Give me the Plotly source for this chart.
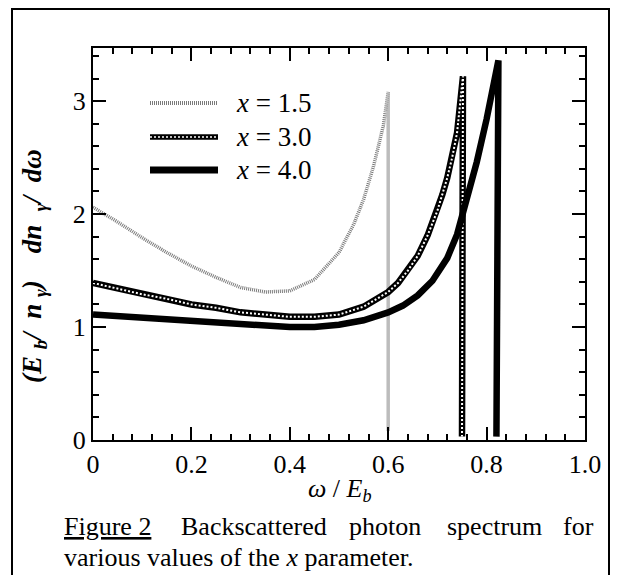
import plotly.graph_objects as go

# ---- data ----
omega_15 = [0.00, 0.05, 0.10, 0.15, 0.20, 0.25, 0.30, 0.35, 0.40, 0.45, 0.50, 0.53, 0.55, 0.57, 0.59, 0.600, 0.600]
spec_15 = [2.06, 1.93, 1.79, 1.66, 1.54, 1.44, 1.35, 1.31, 1.32, 1.42, 1.66, 1.91, 2.13, 2.42, 2.78, 3.08, 0.08]

omega_30 = [0.00, 0.05, 0.10, 0.15, 0.20, 0.25, 0.30, 0.35, 0.40, 0.45, 0.50, 0.55, 0.60, 0.62, 0.64,
            0.66, 0.68, 0.70, 0.71, 0.72, 0.73, 0.74, 0.752, 0.750]
spec_30 = [1.39, 1.34, 1.29, 1.25, 1.20, 1.17, 1.13, 1.11, 1.09, 1.09, 1.11, 1.18, 1.31, 1.39, 1.50,
           1.63, 1.81, 2.03, 2.17, 2.32, 2.50, 2.72, 3.22, 0.03]

omega_40 = [0.00, 0.05, 0.10, 0.15, 0.20, 0.25, 0.30, 0.35, 0.40, 0.45, 0.50, 0.55, 0.60, 0.63, 0.66,
            0.69, 0.72, 0.74, 0.76, 0.78, 0.80, 0.815, 0.824, 0.820]
spec_40 = [1.11, 1.095, 1.08, 1.065, 1.05, 1.035, 1.02, 1.005, 1.00, 1.00, 1.02, 1.06, 1.13, 1.19, 1.28,
           1.41, 1.61, 1.82, 2.12, 2.46, 2.84, 3.15, 3.36, 0.03]

x_ticks = [0, 0.2, 0.4, 0.6, 0.8, 1.0]
x_tick_text = ["0", "0.2", "0.4", "0.6", "0.8", "1.0"]
y_ticks = [0, 1, 2, 3]
y_tick_text = ["0", "1", "2", "3"]
legend_labels = ["<i>x</i> = 1.5", "<i>x</i> = 3.0", "<i>x</i> = 4.0"]

FONT = "Liberation Serif, Times New Roman, serif"

fig = go.Figure()
fig.add_trace(go.Scatter(x=omega_15, y=spec_15, mode="lines",
                         line=dict(color="#7a7a7a", width=3.5, dash="1px,1px"),
                         showlegend=False, hoverinfo="skip"))
fig.add_trace(go.Scatter(x=omega_30, y=spec_30, mode="lines",
                         line=dict(color="black", width=6.5),
                         showlegend=False, hoverinfo="skip"))
fig.add_trace(go.Scatter(x=omega_30, y=spec_30, mode="lines",
                         line=dict(color="white", width=2, dash="2px,2px"),
                         showlegend=False, hoverinfo="skip"))
fig.add_trace(go.Scatter(x=omega_40, y=spec_40, mode="lines",
                         line=dict(color="black", width=6.5),
                         showlegend=False, hoverinfo="skip"))

# page has an 8px body margin: lay out in page pixels, then shift
OFF = 8
W, H = 619 - OFF, 575 - OFF
PL, PR, PT, PB = 93, 585, 48, 440          # plot box in page pixels
L, T = PL - OFF, PT - OFF
R, B = W - (PR - OFF), H - (PB - OFF)
pw, ph = PR - PL, PB - PT


def px(xp):
    return (xp - PL) / pw


def py(yp):
    return (PB - yp) / ph


axis_common = dict(showgrid=False, zeroline=False, showline=True, linecolor="black",
                   linewidth=2, mirror="ticks", ticks="inside", ticklen=13,
                   tickwidth=1.5, tickcolor="black",
                   tickfont=dict(family=FONT, size=26, color="black"))

fig.update_xaxes(range=[0, 1.0], tickvals=x_ticks, ticktext=x_tick_text,
                 minor=dict(dtick=0.04, ticks="inside", ticklen=6, tickwidth=1.5, tickcolor="black"),
                 **axis_common)
fig.update_yaxes(range=[0, 3.47], tickvals=y_ticks, ticktext=y_tick_text,
                 minor=dict(dtick=0.2, ticks="inside", ticklen=6, tickwidth=1.5, tickcolor="black"),
                 **axis_common)

shapes = []
# outer frame
shapes.append(dict(type="rect", xref="paper", yref="paper",
                   x0=px(12), x1=px(609), y0=py(600), y1=py(9),
                   line=dict(color="black", width=2), layer="below"))
# legend samples
leg_y = [103, 137, 170]
shapes.append(dict(type="line", xref="paper", yref="paper", x0=px(150), x1=px(218),
                   y0=py(leg_y[0]), y1=py(leg_y[0]),
                   line=dict(color="#7a7a7a", width=4, dash="1px,1px")))
shapes.append(dict(type="line", xref="paper", yref="paper", x0=px(150), x1=px(218),
                   y0=py(leg_y[1]), y1=py(leg_y[1]),
                   line=dict(color="black", width=5.5)))
shapes.append(dict(type="line", xref="paper", yref="paper", x0=px(150), x1=px(218),
                   y0=py(leg_y[1]), y1=py(leg_y[1]),
                   line=dict(color="white", width=1.6, dash="2px,2px")))
shapes.append(dict(type="line", xref="paper", yref="paper", x0=px(150), x1=px(218),
                   y0=py(leg_y[2]), y1=py(leg_y[2]),
                   line=dict(color="black", width=7)))

annotations = []
for lab, yy in zip(legend_labels, leg_y):
    annotations.append(dict(text=lab, xref="paper", yref="paper", x=px(234), y=py(yy),
                            xanchor="left", yanchor="middle", showarrow=False,
                            font=dict(family=FONT, size=27, color="black")))

# axis titles
annotations.append(dict(text="<i>ω</i> / <i>E</i><sub><i>b</i></sub>", xref="paper", yref="paper",
                        x=px(340), y=py(490), xanchor="center", yanchor="middle", showarrow=False,
                        font=dict(family=FONT, size=26, color="black")))
annotations.append(dict(text="<b><i>(E</i></b> <sub><b><i>b</i></b></sub><b><i>/&nbsp; n</i></b> <sub><b><i>γ</i></b></sub>"
                             "<b><i>)&nbsp;&nbsp;&nbsp; dn&nbsp; </i></b><sub><b><i>γ</i></b></sub><b><i>/&nbsp; dω</i></b>",
                        xref="paper", yref="paper", x=px(34), y=py(266), textangle=-90,
                        xanchor="center", yanchor="middle", showarrow=False,
                        font=dict(family=FONT, size=27, color="black")))

# caption (justified first line)
cap_font = dict(family=FONT, size=26, color="black")
cap_words = [("<u>Figure 2</u>", 62, "left"), ("Backscattered", 254, "center"),
             ("photon", 385, "center"), ("spectrum", 494, "center"), ("for", 596, "right")]
for w, xx, anc in cap_words:
    annotations.append(dict(text=w, xref="paper", yref="paper", x=px(xx), y=py(526),
                            xanchor=anc, yanchor="middle", showarrow=False, font=cap_font))
annotations.append(dict(text="various values of the <i>x</i> parameter.", xref="paper", yref="paper",
                        x=px(62), y=py(557), xanchor="left", yanchor="middle", showarrow=False,
                        font=cap_font))

fig.update_layout(width=W, height=H, margin=dict(l=L, r=R, t=T, b=B),
                  paper_bgcolor="white", plot_bgcolor="white",
                  shapes=shapes, annotations=annotations, showlegend=False)

fig.write_html("out.html")
